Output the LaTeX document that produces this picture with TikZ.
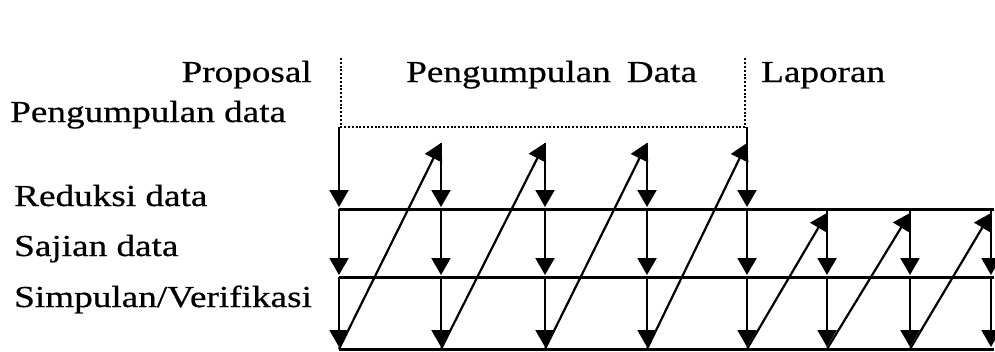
\documentclass[tikz,border=0pt]{standalone}
\usepackage{fontspec}
\setmainfont{Liberation Serif}
\newfontfamily\widefont[FakeStretch=1.22,FakeBold=0.6]{Liberation Serif}
\usetikzlibrary{arrows.meta}
\begin{document}
\begin{tikzpicture}[x=1pt,y=-1pt,
  lbl/.style={font=\widefont\fontsize{30.5}{32}\selectfont, inner sep=0pt},
  downarr/.style={line width=2.2pt, -{Triangle[length=17pt,width=19pt]}, shorten >=2pt},
  diagarr/.style={line width=2.2pt, -{Triangle[length=17pt,width=19pt]}},
  hline/.style={line width=3pt},
  dotline/.style={line width=2.4pt, dash pattern=on 2pt off 1.8pt}]
\useasboundingbox (0,0) rectangle (995,351);
\clip (0,0) rectangle (995,351);
% column coordinates
\foreach \n/\x in {0/339,1/441,2/545,3/647,4/747,5/827,6/910,7/991}{
  \coordinate (a\n) at (\x,209);
  \coordinate (b\n) at (\x,277);
  \coordinate (c\n) at (\x,349);
}
\coordinate (t0) at (339,127);
\foreach \n/\x in {1/441,2/545,3/647,4/747}{ \coordinate (t\n) at (\x,143); }
\foreach \n/\x in {5/827,6/910,7/991}{ \coordinate (u\n) at (\x,213); }
\coordinate (d4) at (747,127);
\coordinate (pl) at (341,58);
\coordinate (pr) at (745,58);
\coordinate (ql) at (341,127);
\coordinate (qr) at (745,127);
\coordinate (ae) at (994,209);
\coordinate (be) at (994,277);
\coordinate (ce) at (994,349);
% dotted frame
\draw[dotline] (pl) -- (ql) -- (qr) -- (pr);
% horizontal lines
\draw[hline] (a0) -- (ae);
\draw[hline] (b0) -- (be);
\draw[hline] (c0) -- (ce);
% vertical down arrows
\draw[line width=2.2pt] (d4) -- (t4);
\draw[downarr] (t0) -- (a0);
\foreach \n in {1,2,3,4}{ \draw[downarr] (t\n) -- (a\n); }
\foreach \n in {0,1,2,3,4,5,6,7}{
  \draw[downarr] (a\n) -- (b\n);
  \draw[downarr] (b\n) -- (c\n);
}
% diagonal arrows
\draw[diagarr] (c0) -- (t1);
\draw[diagarr] (c1) -- (t2);
\draw[diagarr] (c2) -- (t3);
\draw[diagarr] (c3) -- (t4);
\draw[diagarr] (c4) -- (u5);
\draw[diagarr] (c5) -- (u6);
\draw[diagarr] (c6) -- (u7);
% labels
\node[lbl, anchor=base east] (prop) at (312,82) {Proposal};
\node[lbl, anchor=base west] (pd) at (406,82) {Pengumpulan\hspace{16pt}Data};
\node[lbl, anchor=base west] (lap) at (761,82) {Laporan};
\node[lbl, anchor=base west] (pgd) at (10,122) {Pengumpulan data};
\node[lbl, anchor=base west] (red) at (14,206) {Reduksi data};
\node[lbl, anchor=base west] (saj) at (14,256) {Sajian data};
\node[lbl, anchor=base west] (sim) at (14,307) {Simpulan/Verifikasi};
\end{tikzpicture}
\end{document}
